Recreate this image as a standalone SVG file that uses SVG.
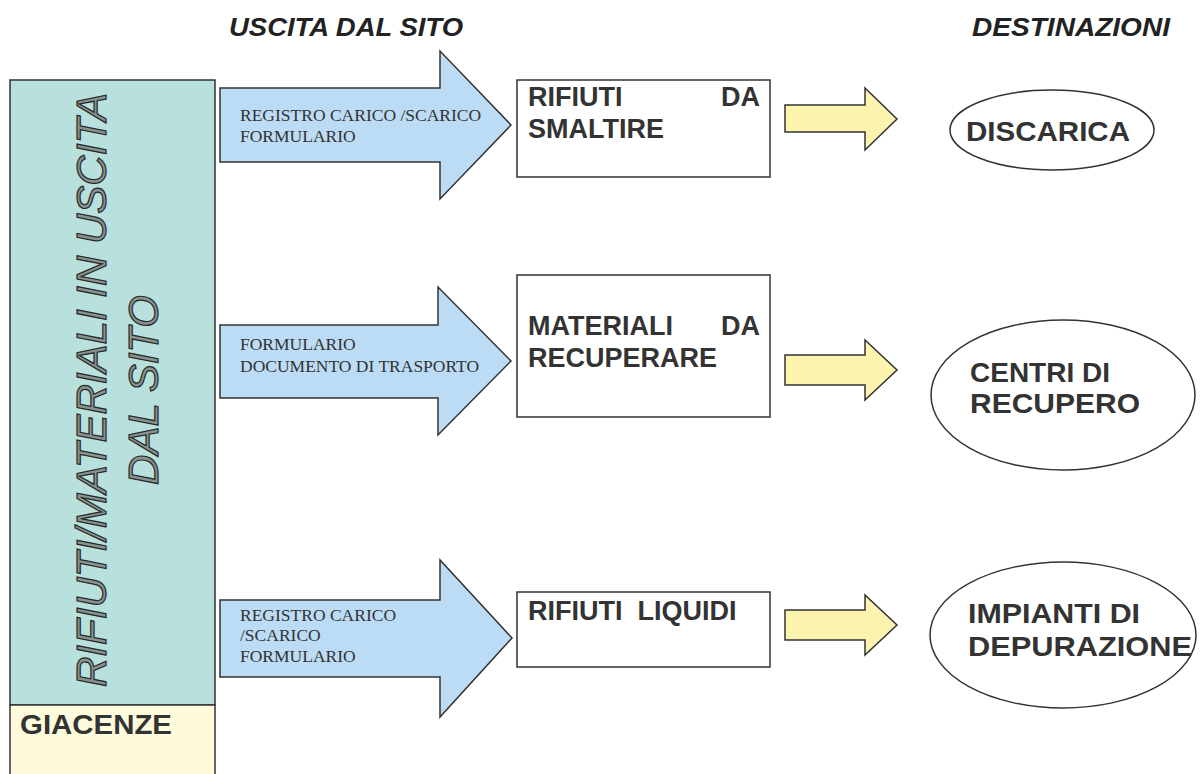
<svg xmlns="http://www.w3.org/2000/svg" width="1200" height="774" viewBox="0 0 1200 774">
<style>
.hdr{font-family:"Liberation Sans",Arial,sans-serif;font-weight:bold;font-style:italic;font-size:25px;fill:#222}
.bigarrow{fill:#bcdcf6;stroke:#333;stroke-width:1.5;stroke-linejoin:miter}
.yarrow{fill:#fbf3ae;stroke:#333;stroke-width:1.5}
.doc{font-family:"Liberation Serif","Times New Roman",serif;font-size:17.5px;fill:#333}
.box{fill:#fff;stroke:#333;stroke-width:1.5}
.btxt{font-family:"Liberation Sans",Arial,sans-serif;font-weight:bold;font-size:27px;fill:#333}
.ell{fill:#fff;stroke:#333;stroke-width:1.5}
.etxt{font-family:"Liberation Sans",Arial,sans-serif;font-weight:bold;font-size:28px;fill:#333}
.vert{font-family:"Liberation Sans",Arial,sans-serif;font-style:italic;font-size:42px;fill:#86938f;stroke:#2a2a2a;stroke-width:1.2}
</style>
<rect width="1200" height="774" fill="#fff"/>
<text class="hdr" x="229" y="36" textLength="234" lengthAdjust="spacingAndGlyphs">USCITA DAL SITO</text>
<text class="hdr" x="972" y="36" textLength="198" lengthAdjust="spacingAndGlyphs">DESTINAZIONI</text>

<g id="left-column">
<rect x="10" y="80" width="205" height="625" fill="#b8e0dc" stroke="#333" stroke-width="1.5"/>
<text class="vert" transform="translate(106,390) rotate(-90)" text-anchor="middle" textLength="594" lengthAdjust="spacingAndGlyphs">RIFIUTI/MATERIALI IN USCITA</text>
<text class="vert" transform="translate(158,390) rotate(-90)" text-anchor="middle">DAL SITO</text>
</g>
<g id="giacenze">
<rect x="10" y="705" width="205" height="75" fill="#fdfbdc" stroke="#333" stroke-width="1.5"/>
<text x="20" y="734" font-family="Liberation Sans, Arial, sans-serif" font-weight="bold" font-size="28" fill="#333" textLength="152" lengthAdjust="spacingAndGlyphs">GIACENZE</text>
</g>

<g id="connectors">
<g id="arrow-1">
<polygon class="bigarrow" points="220,88 440,88 440,51 511,125 440,199 440,162 220,162"/>
<text class="doc" x="240" y="121">REGISTRO CARICO /SCARICO</text>
<text class="doc" x="240" y="142">FORMULARIO</text>
</g>
<g id="arrow-2">
<polygon class="bigarrow" points="220,325 438,325 438,287 511,361 438,435 438,398 220,398"/>
<text class="doc" x="240" y="350">FORMULARIO</text>
<text class="doc" x="240" y="372">DOCUMENTO DI TRASPORTO</text>
</g>
<g id="arrow-3">
<polygon class="bigarrow" points="220,600 440,600 440,560 512,638 440,717 440,677 220,677"/>
<text class="doc" x="240" y="621">REGISTRO CARICO</text>
<text class="doc" x="240" y="641">/SCARICO</text>
<text class="doc" x="240" y="662">FORMULARIO</text>
</g>
<polygon class="yarrow" points="785,105 865,105 865,88 897,119 865,150 865,132 785,132"/>
<polygon class="yarrow" points="785,355 865,355 865,340 897,370 865,400 865,385 785,385"/>
<polygon class="yarrow" points="785,610 865,610 865,595 897,625 865,655 865,640 785,640"/>
</g>

<g id="box-smaltire">
<rect class="box" x="517" y="80" width="253" height="97"/>
<text class="btxt" x="528" y="106">RIFIUTI</text>
<text class="btxt" x="760" y="106" text-anchor="end">DA</text>
<text class="btxt" x="528" y="138">SMALTIRE</text>
</g>
<g id="box-recuperare">
<rect class="box" x="517" y="275" width="253" height="142"/>
<text class="btxt" x="528" y="335">MATERIALI</text>
<text class="btxt" x="760" y="335" text-anchor="end">DA</text>
<text class="btxt" x="528" y="367">RECUPERARE</text>
</g>
<g id="box-liquidi">
<rect class="box" x="517" y="592" width="253" height="75"/>
<text class="btxt" x="528" y="620" xml:space="preserve">RIFIUTI  LIQUIDI</text>
</g>

<g id="discarica">
<ellipse class="ell" cx="1052" cy="130" rx="102" ry="40"/>
<text class="etxt" x="966" y="141" textLength="164" lengthAdjust="spacingAndGlyphs">DISCARICA</text>
</g>
<g id="centri-recupero">
<ellipse class="ell" cx="1063" cy="395" rx="132" ry="75"/>
<text class="etxt" x="970" y="382" textLength="140" lengthAdjust="spacingAndGlyphs">CENTRI DI</text>
<text class="etxt" x="970" y="413" textLength="170" lengthAdjust="spacingAndGlyphs">RECUPERO</text>
</g>
<g id="impianti-depurazione">
<ellipse class="ell" cx="1063" cy="635" rx="133" ry="73"/>
<text class="etxt" x="968" y="623" textLength="172" lengthAdjust="spacingAndGlyphs">IMPIANTI DI</text>
<text class="etxt" x="968" y="656" textLength="224" lengthAdjust="spacingAndGlyphs">DEPURAZIONE</text>
</g>
</svg>
